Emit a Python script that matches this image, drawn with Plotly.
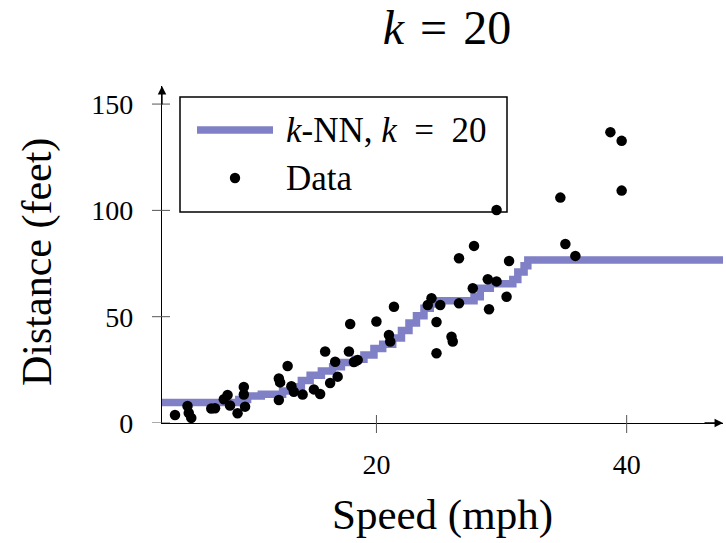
import plotly.graph_objects as go

# Observed stopping distances
speed = [3.9, 4.9, 5.0, 5.2, 6.8, 7.1, 7.8, 8.1, 8.3, 8.9, 9.4, 9.4, 9.5,
         12.2, 12.3, 12.2, 12.9, 13.2, 13.4, 14.1, 15.0, 15.5, 15.9, 16.3, 16.9, 16.7,
         17.8, 17.9, 18.2, 18.5, 20.0, 21.4, 21.0, 21.1, 24.1, 24.4, 25.1, 24.8, 24.8,
         26.0, 26.1, 26.6, 27.8, 27.7, 26.6, 28.9, 29.6, 29.0, 30.4, 30.6, 29.6,
         34.7, 35.1, 35.9, 38.7, 39.6, 39.6]
distance = [3.8, 8.0, 4.7, 2.4, 6.8, 6.9, 11.2, 13.2, 8.2, 4.6, 16.9, 13.4, 7.7,
            20.9, 19.1, 10.8, 26.8, 17.3, 14.7, 13.4, 15.8, 13.6, 33.6, 18.8, 21.8, 28.8,
            33.6, 46.6, 28.7, 29.6, 47.7, 54.7, 41.4, 38.3, 55.5, 58.7, 55.5, 47.5, 32.8,
            40.6, 38.3, 77.5, 83.3, 63.4, 56.3, 67.6, 66.6, 53.5, 59.4, 76.2, 100.2,
            106.0, 84.2, 78.6, 136.8, 132.7, 109.3]

# k-NN (k = 20) prediction as a step function: breakpoints and levels
knn_x = [2.86, 9.0, 9.7, 10.8, 12.5, 13.3, 14.0, 14.7, 15.6, 16.5, 17.2, 18.3, 19.0,
         19.8, 20.5, 21.3, 22.0, 22.6, 23.2, 23.8, 24.3, 25.0, 27.8, 28.3, 29.1,
         30.9, 31.3, 31.8, 32.1, 48.0]
knn_y = [9.6, 11.0, 12.7, 13.5, 15.0, 17.0, 20.0, 22.5, 24.5, 26.5, 28.5, 30.0, 32.0,
         35.0, 37.0, 40.0, 43.5, 47.0, 50.5, 54.0, 56.0, 57.5, 59.4, 63.4, 65.5,
         67.5, 71.0, 74.0, 76.7, 76.7]

x_ticks = [20, 40]
y_ticks = [0, 50, 100, 150]
x_range = [2.86, 47.7]
y_range = [0, 158.5]

FONT = "Liberation Serif"
LINE_COLOR = "rgb(128,128,198)"
W, H = 726, 543
ML, MR, MT, MB = 162, 3, 86, 120
PW, PH = W - ML - MR, H - MT - MB


def px(xp):
    return (xp - ML) / PW


def py(yp):
    return (H - MB - yp) / PH


fig = go.Figure()
fig.add_trace(go.Scatter(x=knn_x, y=knn_y, mode="lines", line_shape="hv",
                         line=dict(color=LINE_COLOR, width=7.5),
                         name="k-NN, k = 20", showlegend=False))
fig.add_trace(go.Scatter(x=speed, y=distance, mode="markers",
                         marker=dict(color="black", size=10.5),
                         name="Data", showlegend=False))

shapes = []
# tick marks crossing the axes
for t in y_ticks:
    shapes.append(dict(type="line", xref="paper", yref="y", x0=px(ML - 10), x1=px(ML + 8),
                       y0=t, y1=t, line=dict(color="#555", width=1)))
for t in x_ticks:
    shapes.append(dict(type="line", xref="x", yref="paper", x0=t, x1=t,
                       y0=py(H - MB + 10), y1=py(H - MB - 8), line=dict(color="#555", width=1)))

# legend box
shapes.append(dict(type="rect", xref="paper", yref="paper", x0=px(180), x1=px(507),
                   y0=py(212), y1=py(97), line=dict(color="black", width=1.5),
                   fillcolor="white", layer="below"))
shapes.append(dict(type="line", xref="paper", yref="paper", x0=px(197), x1=px(273),
                   y0=py(130), y1=py(130), line=dict(color=LINE_COLOR, width=7.5)))
shapes.append(dict(type="circle", xref="paper", yref="paper", x0=px(229.8), x1=px(240.2),
                   y0=py(183.2), y1=py(172.8), fillcolor="black", line=dict(width=0)))

annotations = [
    dict(xref="paper", yref="paper", x=px(284), y=py(130), xanchor="left", yanchor="middle",
         text="<i>k</i>-NN, <i>k</i>&#8194;=&#8194;20", showarrow=False,
         font=dict(family=FONT, size=35, color="black")),
    dict(xref="paper", yref="paper", x=px(284), y=py(178), xanchor="left", yanchor="middle",
         text="Data", showarrow=False, font=dict(family=FONT, size=35, color="black")),
    # y-axis title
    dict(xref="paper", yref="paper", x=px(37), y=py(262), xanchor="center", yanchor="middle",
         text="Distance (feet)", textangle=-90, showarrow=False,
         font=dict(family=FONT, size=42, color="black")),
    # axis arrow heads
    dict(xref="paper", yref="paper", x=1, y=0, ax=-20, ay=0, text="", showarrow=True,
         arrowhead=2, arrowsize=1.3, arrowwidth=1.3, arrowcolor="black", standoff=0),
    dict(xref="paper", yref="paper", x=0, y=1, ax=0, ay=20, text="", showarrow=True,
         arrowhead=2, arrowsize=1.3, arrowwidth=1.3, arrowcolor="black", standoff=0),
]

fig.update_layout(
    width=W, height=H,
    margin=dict(l=ML, r=MR, t=MT, b=MB),
    paper_bgcolor="white", plot_bgcolor="white",
    font=dict(family=FONT, color="black"),
    title=dict(text="<i>k</i>&#8196;=&#8196;20", x=447 / W, y=1 - 27 / H, xanchor="center",
               yanchor="middle", font=dict(family=FONT, size=48, color="black")),
    xaxis=dict(range=x_range, tickvals=x_ticks, ticks="", showgrid=False, zeroline=False,
               showline=True, linecolor="black", linewidth=1.3,
               tickfont=dict(family=FONT, size=28), ticklabelstandoff=16,
               title=dict(text="Speed (mph)", font=dict(family=FONT, size=43), standoff=20)),
    yaxis=dict(range=y_range, tickvals=y_ticks, ticks="", showgrid=False, zeroline=False,
               showline=True, linecolor="black", linewidth=1.3,
               tickfont=dict(family=FONT, size=28), ticklabelstandoff=22),
    shapes=shapes,
    annotations=annotations,
    showlegend=False,
)

fig.write_html("out.html")
